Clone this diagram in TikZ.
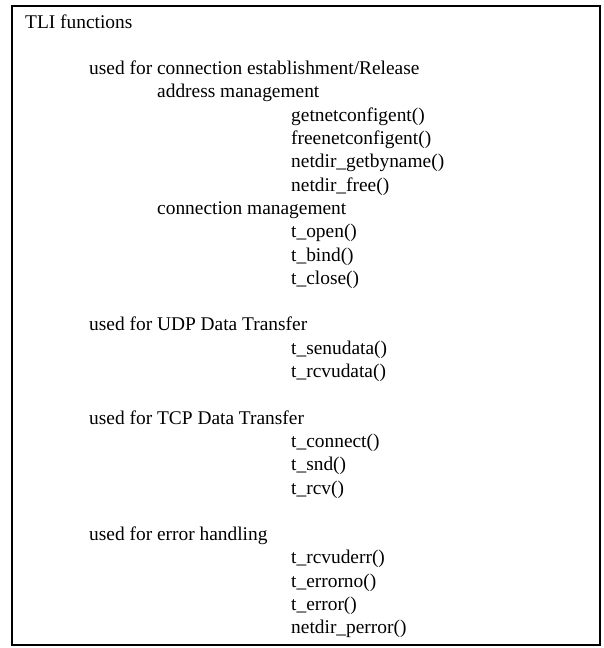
\documentclass[tikz,border=0pt]{standalone}
\usepackage{fontspec}
\setmainfont{Liberation Serif}
\begin{document}
\begin{tikzpicture}[x=1pt,y=-1pt,
  txt/.style={anchor=base west,inner sep=0pt,font=\fontsize{19.4}{23}\selectfont},
  frame/.style={draw=black,line width=2pt}]
\useasboundingbox (0,0) rectangle (603,648);
\fill[white] (0,0) rectangle (603,648);
\draw[frame] (12,6) rectangle (600,645);
% column positions and line pitch
\def\cA{25}\def\cB{89}\def\cC{157}\def\cD{291}
\def\pitch{23.3}\def\topy{28}
\newcommand\rowy[1]{\topy+#1*\pitch}
\node[txt] (title) at (\cA,{\rowy{0}}) {TLI functions};
\node[txt] (conn) at (\cB,{\rowy{2}}) {used for connection establishment/Release};
\node[txt] (addr) at (\cC,{\rowy{3}}) {address management};
\node[txt] (f1) at (\cD,{\rowy{4}}) {getnetconfigent()};
\node[txt] (f2) at (\cD,{\rowy{5}}) {freenetconfigent()};
\node[txt] (f3) at (\cD,{\rowy{6}}) {netdir\_getbyname()};
\node[txt] (f4) at (\cD,{\rowy{7}}) {netdir\_free()};
\node[txt] (cmgmt) at (\cC,{\rowy{8}}) {connection management};
\node[txt] (f5) at (\cD,{\rowy{9}}) {t\_open()};
\node[txt] (f6) at (\cD,{\rowy{10}}) {t\_bind()};
\node[txt] (f7) at (\cD,{\rowy{11}}) {t\_close()};
\node[txt] (udp) at (\cB,{\rowy{13}}) {used for UDP Data Transfer};
\node[txt] (f8) at (\cD,{\rowy{14}}) {t\_senudata()};
\node[txt] (f9) at (\cD,{\rowy{15}}) {t\_rcvudata()};
\node[txt] (tcp) at (\cB,{\rowy{17}}) {used for TCP Data Transfer};
\node[txt] (f10) at (\cD,{\rowy{18}}) {t\_connect()};
\node[txt] (f11) at (\cD,{\rowy{19}}) {t\_snd()};
\node[txt] (f12) at (\cD,{\rowy{20}}) {t\_rcv()};
\node[txt] (err) at (\cB,{\rowy{22}}) {used for error handling};
\node[txt] (f13) at (\cD,{\rowy{23}}) {t\_rcvuderr()};
\node[txt] (f14) at (\cD,{\rowy{24}}) {t\_errorno()};
\node[txt] (f15) at (\cD,{\rowy{25}}) {t\_error()};
\node[txt] (f16) at (\cD,{\rowy{26}}) {netdir\_perror()};
\end{tikzpicture}
\end{document}
